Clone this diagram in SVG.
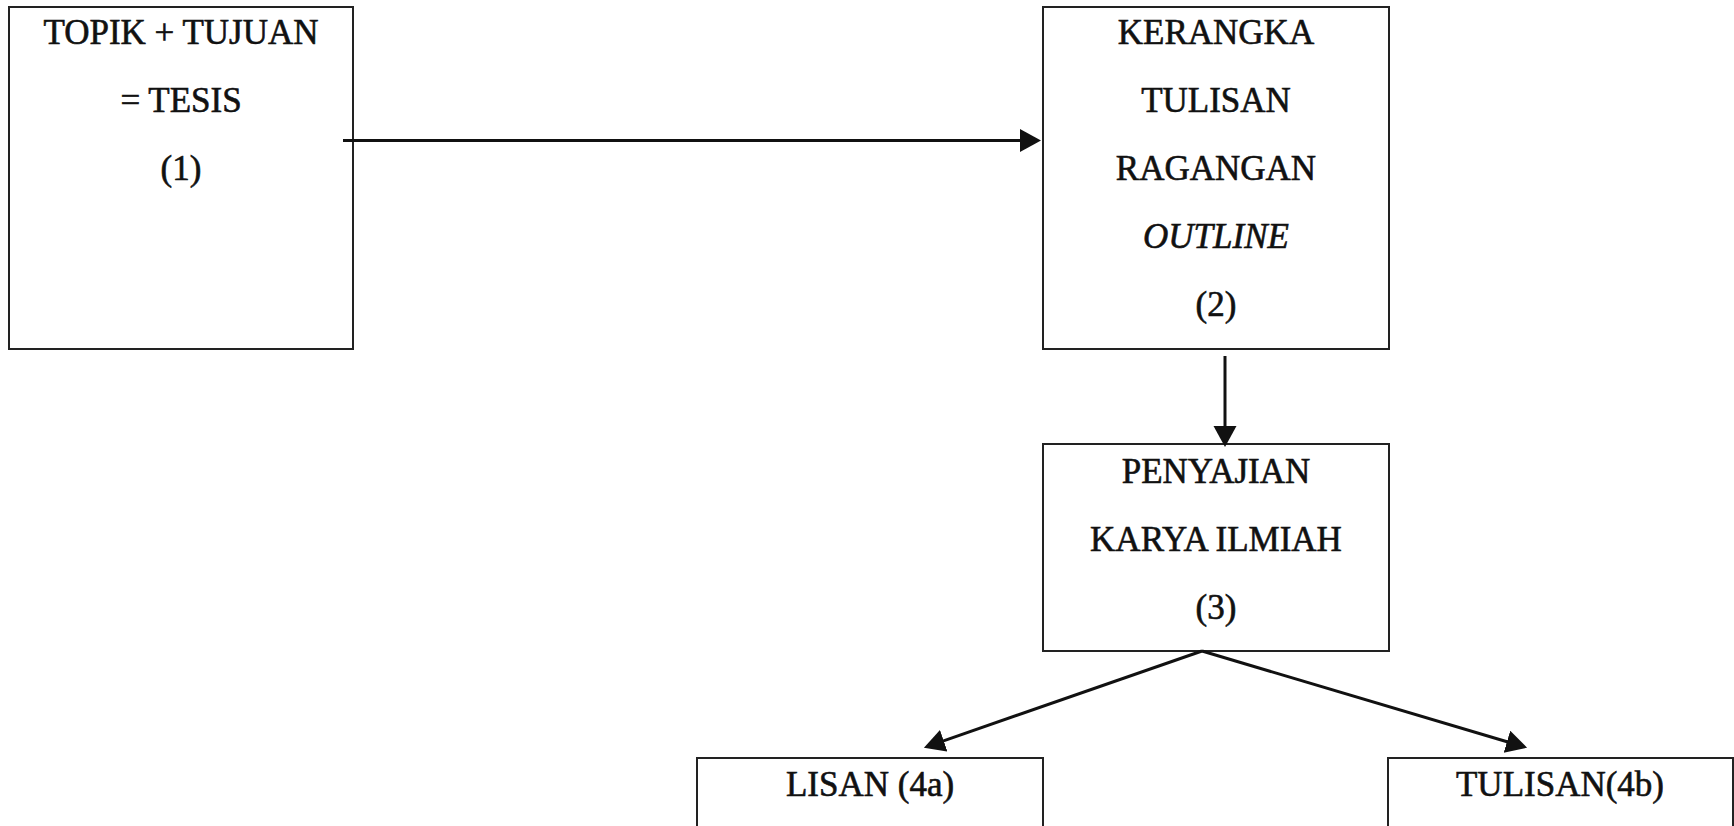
<svg xmlns="http://www.w3.org/2000/svg" width="1734" height="826" viewBox="0 0 1734 826">
<style>
.box{fill:#fff;stroke:#222;stroke-width:2}
.t{font-family:"Liberation Serif","Times New Roman",serif;font-size:35px;fill:#111;stroke:#111;stroke-width:0.6;text-anchor:middle}
.i{font-style:italic}
.c{fill:none;stroke:#111;stroke-width:3}
</style>
<defs>
<marker id="ah" markerUnits="userSpaceOnUse" markerWidth="23" markerHeight="24" refX="1" refY="11.5" orient="auto">
<path d="M0,0 L21,11.5 L0,23 z" fill="#111"/>
</marker>
</defs>
<rect width="1734" height="826" fill="#fff"/>
<g id="node1">
<rect class="box" x="9" y="7" width="344" height="342"/>
<text class="t" x="181" y="44">TOPIK + TUJUAN</text>
<text class="t" x="181" y="112">= TESIS</text>
<text class="t" x="181" y="180">(1)</text>
</g>
<g id="node2">
<rect class="box" x="1043" y="7" width="346" height="342"/>
<text class="t" x="1216" y="44">KERANGKA</text>
<text class="t" x="1216" y="112">TULISAN</text>
<text class="t" x="1216" y="180">RAGANGAN</text>
<text class="t i" x="1216" y="248">OUTLINE</text>
<text class="t" x="1216" y="316">(2)</text>
</g>
<g id="node3">
<rect class="box" x="1043" y="444" width="346" height="207"/>
<text class="t" x="1216" y="483">PENYAJIAN</text>
<text class="t" x="1216" y="551">KARYA ILMIAH</text>
<text class="t" x="1216" y="619">(3)</text>
</g>
<g id="node4a">
<rect class="box" x="697" y="758" width="346" height="80"/>
<text class="t" x="870" y="796">LISAN (4a)</text>
</g>
<g id="node4b">
<rect class="box" x="1388" y="758" width="345" height="80"/>
<text class="t" x="1560" y="796">TULISAN(4b)</text>
</g>
<g id="connectors">
<path class="c" d="M343,140.5 L1021,140.5" marker-end="url(#ah)"/>
<path class="c" d="M1225,356 L1225,427" marker-end="url(#ah)"/>
<path class="c" d="M1202,651 L942.8,741.1" marker-end="url(#ah)"/>
<path class="c" d="M1202,651 L1507.9,742" marker-end="url(#ah)"/>
</g>
</svg>
